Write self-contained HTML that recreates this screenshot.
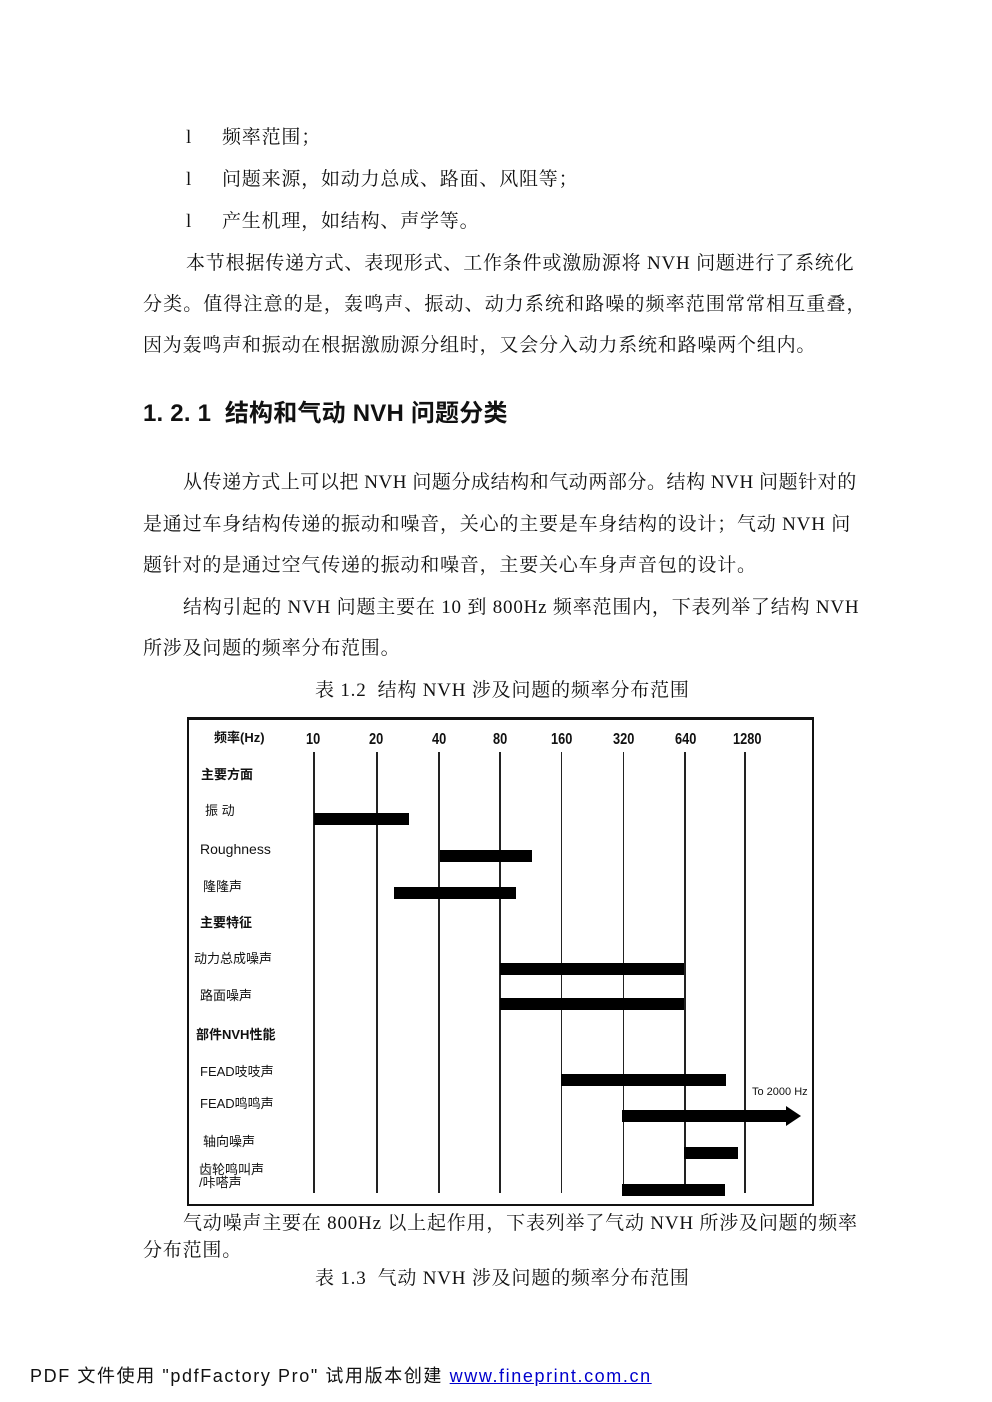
<!DOCTYPE html>
<html><head><meta charset="utf-8"><style>
body{margin:0;width:992px;height:1402px;background:#fff;position:relative;font-family:"Liberation Serif","Noto Serif CJK SC",serif;color:#111;overflow:hidden}
.t{position:absolute;font-size:19px;white-space:nowrap;line-height:1;letter-spacing:0.8px}
.s{font-family:"Liberation Sans","Noto Sans CJK SC",sans-serif}
.v{position:absolute;width:2px;background:#222;top:752px;height:441px}
.b{position:absolute;background:#000;height:12px}
.l{position:absolute;font-family:"Liberation Sans","Noto Sans CJK SC",sans-serif;font-size:13px;white-space:nowrap;line-height:1}
.h{position:absolute;font-family:"Liberation Sans",sans-serif;font-size:16px;font-weight:bold;top:731px;transform:scaleX(.8);transform-origin:left}
</style></head><body>
<div class="t" style="left:186px;top:128px">l</div><div class="t" style="left:222px;top:128px">频率范围；</div>
<div class="t" style="left:186px;top:170px">l</div><div class="t" style="left:222px;top:170px">问题来源，如动力总成、路面、风阻等；</div>
<div class="t" style="left:186px;top:212px">l</div><div class="t" style="left:222px;top:212px">产生机理，如结构、声学等。</div>
<div class="t" style="left:186px;top:254px">本节根据传递方式、表现形式、工作条件或激励源将 NVH 问题进行了系统化</div>
<div class="t" style="left:143px;top:295px;letter-spacing:1.1px">分类。值得注意的是，轰鸣声、振动、动力系统和路噪的频率范围常常相互重叠，</div>
<div class="t" style="left:143px;top:336px">因为轰鸣声和振动在根据激励源分组时，又会分入动力系统和路噪两个组内。</div>
<div class="t s" style="left:143px;top:402px;font-size:24px;font-weight:bold;letter-spacing:0.2px">1. 2. 1&nbsp; 结构和气动 NVH 问题分类</div>
<div class="t" style="left:183px;top:473px;letter-spacing:0.55px">从传递方式上可以把 NVH 问题分成结构和气动两部分。结构 NVH 问题针对的</div>
<div class="t" style="left:143px;top:515px">是通过车身结构传递的振动和噪音，关心的主要是车身结构的设计；气动 NVH 问</div>
<div class="t" style="left:143px;top:556px">题针对的是通过空气传递的振动和噪音，主要关心车身声音包的设计。</div>
<div class="t" style="left:183px;top:598px">结构引起的 NVH 问题主要在 10 到 800Hz 频率范围内，下表列举了结构 NVH</div>
<div class="t" style="left:143px;top:639px">所涉及问题的频率分布范围。</div>
<div class="t" style="left:315px;top:681px">表 1.2&nbsp; 结构 NVH 涉及问题的频率分布范围</div>

<div style="position:absolute;left:187px;top:717px;width:623px;height:484px;border:2px solid #111;border-top-width:3px"></div>
<div class="v" style="left:313px"></div><div class="v" style="left:376px"></div><div class="v" style="left:438px"></div><div class="v" style="left:499px"></div><div class="v" style="left:561px;width:1px"></div><div class="v" style="left:623px;width:1px"></div><div class="v" style="left:684px"></div><div class="v" style="left:744px"></div>
<div class="h" style="left:306px">10</div><div class="h" style="left:369px">20</div><div class="h" style="left:432px">40</div><div class="h" style="left:493px">80</div><div class="h" style="left:551px">160</div><div class="h" style="left:613px">320</div><div class="h" style="left:675px">640</div><div class="h" style="left:733px">1280</div>
<div class="l" style="left:214px;top:731px;font-weight:bold">频率(Hz)</div>
<div class="l" style="left:201px;top:768px;font-weight:bold">主要方面</div>
<div class="l" style="left:205px;top:804px">振 动</div>
<div class="l" style="left:200px;top:842px;font-size:14px">Roughness</div>
<div class="l" style="left:203px;top:880px">隆隆声</div>
<div class="l" style="left:200px;top:916px;font-weight:bold">主要特征</div>
<div class="l" style="left:194px;top:952px">动力总成噪声</div>
<div class="l" style="left:200px;top:989px">路面噪声</div>
<div class="l" style="left:196px;top:1028px;font-weight:bold">部件NVH性能</div>
<div class="l" style="left:200px;top:1065px">FEAD吱吱声</div>
<div class="l" style="left:200px;top:1097px">FEAD鸣鸣声</div>
<div class="l" style="left:203px;top:1135px">轴向噪声</div>
<div class="l" style="left:199px;top:1163px;line-height:13px">齿轮鸣叫声<br>/咔嗒声</div>
<div class="l" style="left:752px;top:1087px;font-size:11px">To 2000 Hz</div>
<div class="b" style="left:314px;top:813px;width:95px"></div>
<div class="b" style="left:440px;top:850px;width:92px"></div>
<div class="b" style="left:394px;top:887px;width:122px"></div>
<div class="b" style="left:500px;top:963px;width:184px"></div>
<div class="b" style="left:500px;top:998px;width:184px"></div>
<div class="b" style="left:561px;top:1074px;width:165px"></div>
<div class="b" style="left:622px;top:1110px;width:165px"></div>
<svg style="position:absolute;left:786px;top:1106px" width="16" height="20"><polygon points="0,0 15,10 0,20" fill="#000"/></svg>
<div class="b" style="left:684px;top:1147px;width:54px"></div>
<div class="b" style="left:622px;top:1184px;width:103px"></div>

<div class="t" style="left:183px;top:1214px">气动噪声主要在 800Hz 以上起作用，下表列举了气动 NVH 所涉及问题的频率</div>
<div class="t" style="left:143px;top:1241px">分布范围。</div>
<div class="t" style="left:315px;top:1269px">表 1.3&nbsp; 气动 NVH 涉及问题的频率分布范围</div>
<div class="t s" style="left:30px;top:1367px;font-size:18px;letter-spacing:1.6px">PDF 文件使用 "pdfFactory Pro" 试用版本创建 <span style="color:#00c;text-decoration:underline">www.fineprint.com.cn</span></div>
</body></html>
